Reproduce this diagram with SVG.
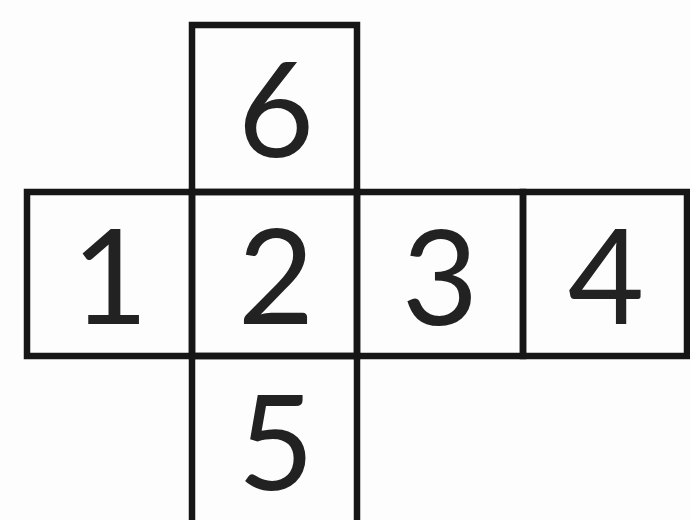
<svg xmlns="http://www.w3.org/2000/svg" width="690" height="520" viewBox="0 0 690 520">
<style>
.face rect{fill:none;stroke:#161616;stroke-width:6.5}
.face text{font-family:Lato,"Open Sans","Liberation Sans",sans-serif;font-size:132px;fill:#222;text-anchor:middle}
</style>
<rect width="690" height="520" fill="#fdfdfd"/>
<g id="face6" class="face"><rect x="192" y="25" width="165" height="167"/><text x="276" y="157">6</text></g>
<g id="face1" class="face"><rect x="27" y="192" width="165" height="164"/><text x="110" y="324">1</text></g>
<g id="face2" class="face"><rect x="192" y="192" width="165" height="164"/><text x="276" y="324">2</text></g>
<g id="face3" class="face"><rect x="357" y="192" width="166" height="164"/><text x="440" y="325">3</text></g>
<g id="face4" class="face"><rect x="523" y="192" width="164" height="164"/><text x="606" y="324">4</text></g>
<g id="face5" class="face"><rect x="192" y="356" width="165" height="180"/><text x="276" y="490">5</text></g>
</svg>
